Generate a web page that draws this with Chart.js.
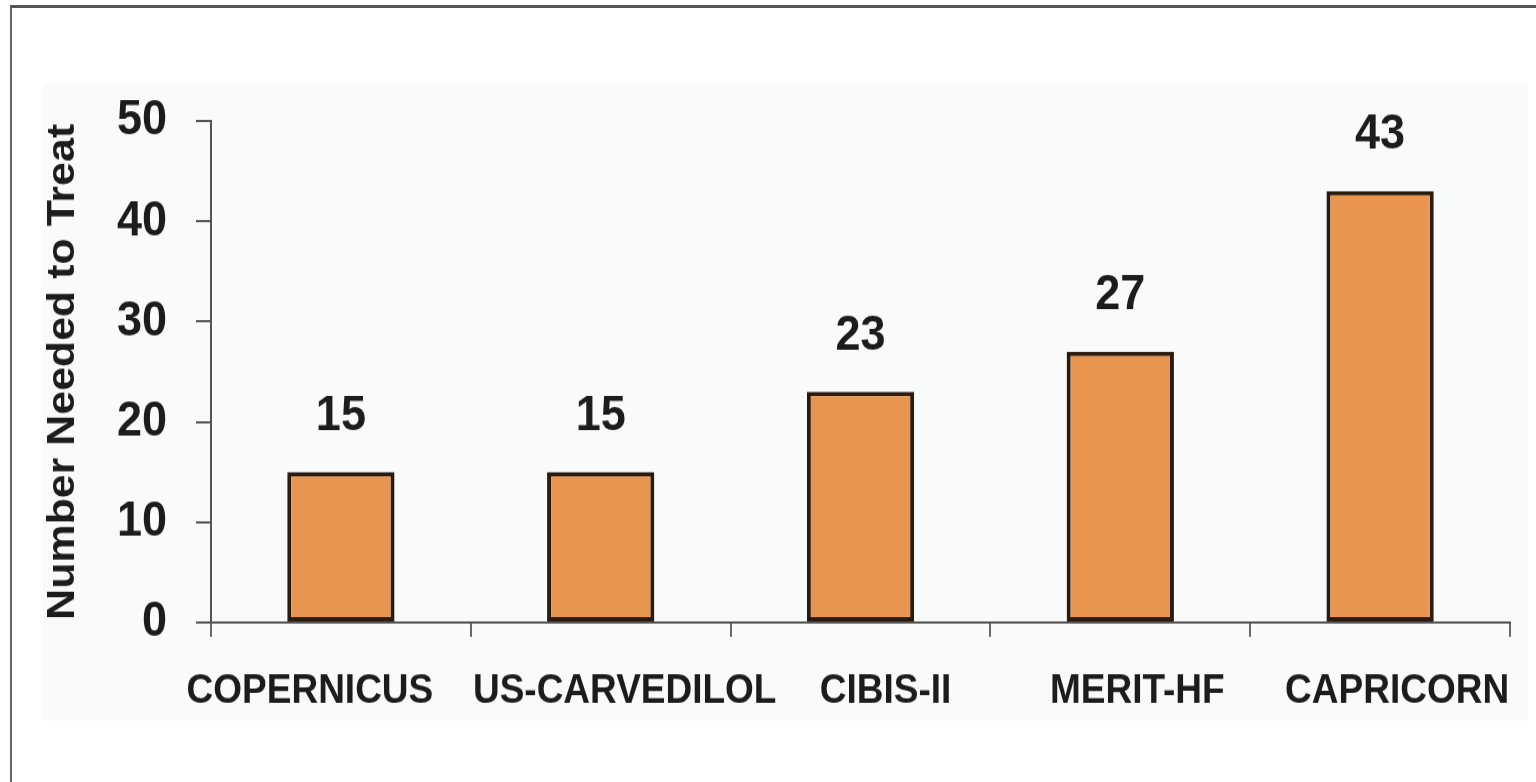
<!DOCTYPE html>
<html>
<head>
<meta charset="utf-8">
<title>Number Needed to Treat</title>
<script src="https://cdn.jsdelivr.net/npm/chart.js@4.4.1/dist/chart.umd.min.js"></script>
<style>
	html, body { margin: 0; padding: 0; background: #fff; overflow: hidden; }
	#wrap { position: relative; width: 1536px; height: 782px; }
	/* canvas is drawn 711px tall and stretched to the page height */
	#chartId { position: absolute; left: 0; top: 0; width: 1536px !important; height: 782px !important; }
	#frame { position: absolute; left: 10px; top: 5px; right: 0; bottom: 0; border-top: 3px solid #555; border-left: 2px solid #666; }
</style>
</head>
<body>
<div id="wrap">
	<canvas id="chartId" width="1536" height="711"></canvas>
	<div id="frame"></div>
</div>
<script>
var trials = ['COPERNICUS', 'US-CARVEDILOL', 'CIBIS-II', 'MERIT-HF', 'CAPRICORN'];
var nnt = [15, 15, 23, 27, 43];
var yTicks = [0, 10, 20, 30, 40, 50];

// the trial names sit a little off the bar centres so the long ones don't collide
var nameShift = [-31, 24, 25, 17, 17];

var barFill = '#e8964f';
var barEdge = '#2b1a0e';
var ink = '#1c1c1c';

Chart.defaults.font.family = "'Liberation Sans', Arial, sans-serif";
Chart.defaults.color = ink;

// light panel behind the plot
var panel = {
	id: 'panel',
	beforeDraw: function (chart) {
		var ctx = chart.ctx;
		ctx.save();
		ctx.fillStyle = '#f9fbfb';
		ctx.fillRect(43, 77, 1485, 578);
		ctx.restore();
	}
};

// numbers above each bar
var barValues = {
	id: 'barValues',
	afterDatasetsDraw: function (chart) {
		var ctx = chart.ctx;
		var meta = chart.getDatasetMeta(0);
		ctx.save();
		ctx.font = 'bold 45px "Liberation Sans", Arial, sans-serif';
		ctx.fillStyle = ink;
		ctx.textAlign = 'center';
		ctx.textBaseline = 'middle';
		meta.data.forEach(function (bar, i) {
			ctx.fillText(nnt[i], bar.x, bar.y - 51);
		});
		ctx.restore();
	}
};

// trial names under the x axis
var trialNames = {
	id: 'trialNames',
	afterDraw: function (chart) {
		var ctx = chart.ctx;
		var x = chart.scales.x;
		ctx.save();
		ctx.font = 'bold 37px "Liberation Sans", Arial, sans-serif';
		ctx.fillStyle = ink;
		ctx.textAlign = 'center';
		ctx.textBaseline = 'middle';
		trials.forEach(function (name, i) {
			ctx.fillText(name, x.getPixelForTick(i) + nameShift[i], x.top + 63);
		});
		ctx.restore();
	}
};

var chrt = document.getElementById('chartId').getContext('2d');
var chartId = new Chart(chrt, {
	type: 'bar',
	data: {
		labels: trials,
		datasets: [{
			data: nnt,
			backgroundColor: barFill,
			borderColor: barEdge,
			borderWidth: 4,
			borderSkipped: false,
			barPercentage: 0.413,
			categoryPercentage: 1
		}]
	},
	options: {
		responsive: false,
		animation: false,
		events: [],
		layout: {
			padding: { top: 110, right: 26, bottom: 45, left: 0 }
		},
		plugins: {
			legend: { display: false },
			tooltip: { enabled: false }
		},
		scales: {
			x: {
				afterFit: function (scale) { scale.height = 100; },
				border: { color: '#555', width: 2 },
				grid: {
					offset: true,
					drawOnChartArea: false,
					drawTicks: true,
					tickLength: 13,
					color: '#666',
					lineWidth: 2
				},
				ticks: { display: false }
			},
			y: {
				min: 0,
				max: 50,
				afterFit: function (scale) { scale.width = 211; },
				afterBuildTicks: function (axis) {
					axis.ticks = yTicks.map(function (v) { return { value: v }; });
				},
				border: { color: '#555', width: 2 },
				grid: {
					drawOnChartArea: false,
					drawTicks: true,
					tickLength: 15,
					color: '#555',
					lineWidth: 2
				},
				ticks: {
					padding: 29,
					font: { size: 45, weight: 'bold' },
					color: ink
				},
				title: {
					display: true,
					text: 'Number Needed to Treat',
					font: { size: 39, weight: 'bold' },
					color: ink,
					padding: { top: 40, bottom: 0 }
				}
			}
		}
	},
	plugins: [panel, barValues, trialNames]
});
</script>
</body>
</html>
